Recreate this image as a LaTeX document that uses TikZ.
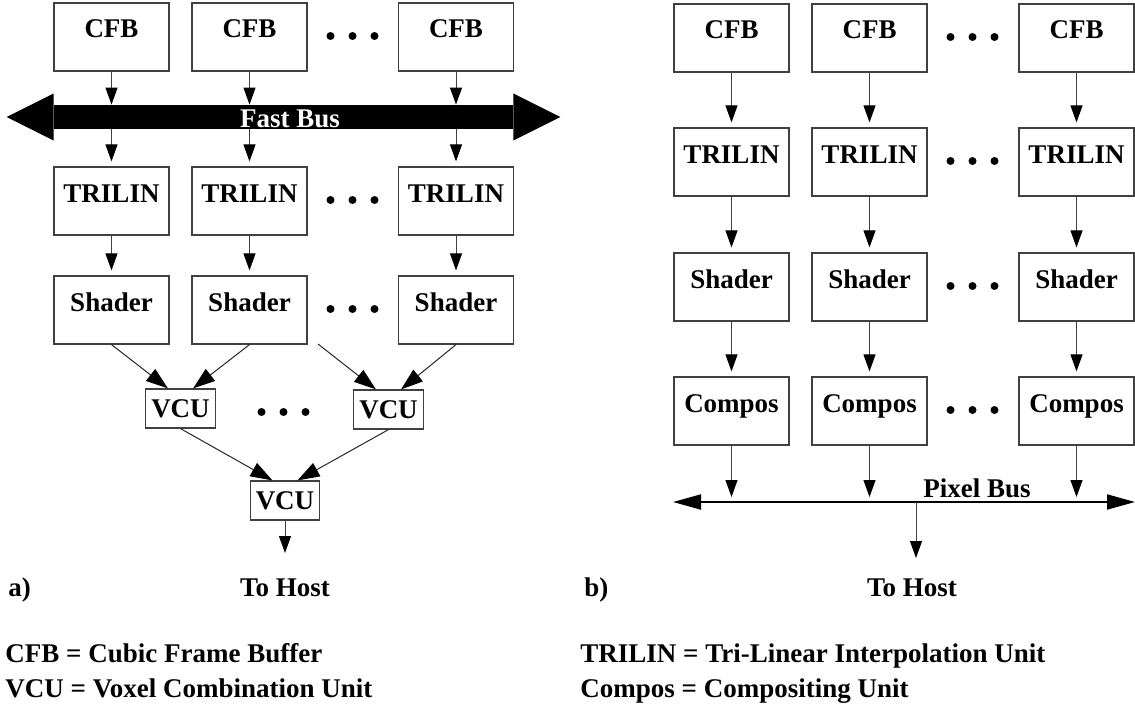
\documentclass[tikz,border=0pt]{standalone}
\usepackage{fontspec}
\setmainfont{Liberation Serif}
\usetikzlibrary{arrows.meta}
\newcommand\ellipsisrow[2]{\foreach \k in {-22,0,22} {\fill (#1+\k,#2) circle (2pt);}}
\begin{document}
\begin{tikzpicture}[x=0.5pt,y=-0.5pt,
  font=\fontsize{13.5}{16}\selectfont\bfseries,
  unitbox/.style={draw=black!75,line width=0.6pt,minimum width=57.5pt,
    text height=17.5pt,text depth=16.5pt,inner sep=0pt,anchor=base},
  vcubox/.style={draw=black!75,line width=0.6pt,inner xsep=2.75pt,
    inner ysep=0pt,text height=14pt,text depth=5.5pt,anchor=base},
  flow/.style={draw=black!75,line width=0.5pt,
    -{Triangle[length=8.5pt,width=6pt,color=black]}},
  merge/.style={draw=black!85,line width=0.5pt,
    -{Triangle[length=11pt,width=7.5pt,color=black]}},
  gap/.style={shorten >=2.5pt},
  busline/.style={line width=1pt,
    {Triangle[length=14pt,width=7.5pt]}-{Triangle[length=14pt,width=7.5pt]}},
  txt/.style={inner sep=0pt,anchor=base}]
 \useasboundingbox (0,0) rectangle (1135,712);
 % a) fast bus
 \foreach \i/\xp in {1/111.5,2/249.5,3/456} {
   \node[unitbox] (cfbA\i) at (\xp,38) {CFB};
   \node[unitbox] (trlA\i) at (\xp,202) {TRILIN};
   \node[unitbox] (shdA\i) at (\xp,311) {Shader};
 }
 \node[fill=black,minimum width=229.5pt,minimum height=12pt,
   inner sep=0pt] (fbus) at (283.5,117) {};
 \fill (fbus.west) ++(0,-23.5) -- ++(-47,23.5) -- ++(47,23.5) -- cycle;
 \fill (fbus.east) ++(0,-23.5) -- ++(47,23.5) -- ++(-47,23.5) -- cycle;
 \node[txt,text=white] (fbtxt) at (290,127) {Fast Bus};
 \foreach \i in {1,2,3} {
   \draw[flow] (cfbA\i.south) -- (cfbA\i.south |- fbus.north);
   \draw[flow,gap] (cfbA\i.south |- fbus.south) -- (trlA\i.north);
   \draw[flow,gap] (trlA\i) -- (shdA\i);
 }
 \ellipsisrow{352.5}{36}
 \ellipsisrow{352.5}{200}
 \ellipsisrow{352.5}{309}
 \node[vcubox] (vcuA1) at (180.5,417) {VCU};
 \node[vcubox] (vcuA2) at (388.5,418) {VCU};
 \node[vcubox] (vcuA3) at (285,509) {VCU};
 \ellipsisrow{283.5}{412}
 \coordinate (shdAx) at (318,344);
 \draw[merge] (shdA1.south) -- (vcuA1.122);
 \draw[merge] (shdA2.south) -- (vcuA1.58);
 \draw[merge] (shdAx) -- (vcuA2.122);
 \draw[merge] (shdA3.south) -- (vcuA2.58);
 \draw[merge] (vcuA1.south) -- (vcuA3.122);
 \draw[merge] (vcuA2.south) -- (vcuA3.58);
 \coordinate (hostA) at (285,553);
 \draw[flow] (vcuA3.south) -- (hostA);
 \node[txt] (hostAtxt) at (285,596) {To Host};
 \node[txt,anchor=base west] (labA) at (8,596) {a)};
 % b) pixel bus
 \foreach \i/\xp in {1/731.5,2/869.5,3/1076.5} {
   \node[unitbox] (cfbB\i) at (\xp,39) {CFB};
   \node[unitbox] (trlB\i) at (\xp,163) {TRILIN};
   \node[unitbox] (shdB\i) at (\xp,288) {Shader};
   \node[unitbox] (cmpB\i) at (\xp,412) {Compos};
   \draw[flow,gap] (cfbB\i) -- (trlB\i);
   \draw[flow,gap] (trlB\i) -- (shdB\i);
   \draw[flow,gap] (shdB\i) -- (cmpB\i);
 }
 \ellipsisrow{972.5}{37}
 \ellipsisrow{972.5}{161}
 \ellipsisrow{972.5}{286}
 \ellipsisrow{972.5}{410}
 \coordinate (pbusW) at (673,502);
 \coordinate (pbusE) at (1135,502);
 \draw[busline] (pbusW) -- (pbusE);
 \foreach \i in {1,2,3}
   \draw[flow,gap] (cmpB\i) -- (cmpB\i |- pbusW);
 \node[txt,anchor=base west] (pbtxt) at (923,497) {Pixel Bus};
 \coordinate (pbusX) at (916,502);
 \coordinate (hostB) at (916,558);
 \draw[flow] (pbusX) -- (hostB);
 \node[txt] (hostBtxt) at (912,596) {To Host};
 \node[txt,anchor=base west] (labB) at (584,596) {b)};
 % legend
 \node[txt,anchor=base west] (keyCFB) at (5,662) {CFB = Cubic Frame Buffer};
 \node[txt,anchor=base west] (keyVCU) at (5,697) {VCU = Voxel Combination Unit};
 \node[txt,anchor=base west] (keyTRL) at (580,662) {TRILIN = Tri-Linear Interpolation Unit};
 \node[txt,anchor=base west] (keyCMP) at (580,697) {Compos = Compositing Unit};
\end{tikzpicture}
\end{document}
